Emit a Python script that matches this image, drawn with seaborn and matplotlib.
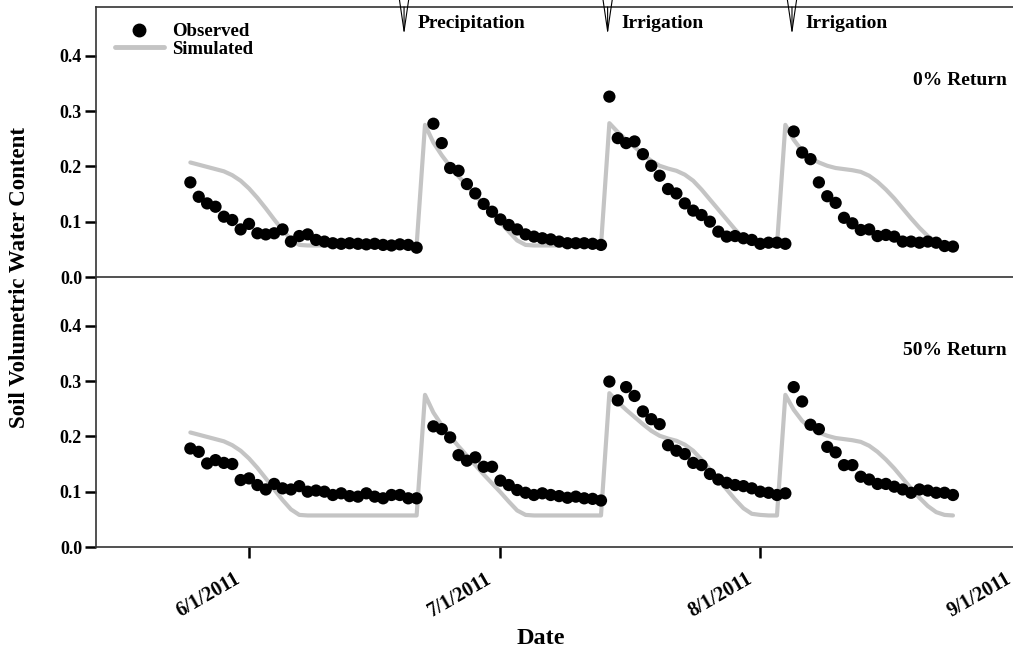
import numpy as np
import pandas as pd
import matplotlib
matplotlib.use("Agg")
import matplotlib.pyplot as plt
import matplotlib.dates as mdates
from matplotlib.lines import Line2D
from matplotlib.transforms import ScaledTranslation
import seaborn as sns

# ---------------- data ----------------
obs_dates = list(pd.date_range("2011-05-25", "2011-06-21")) + list(pd.date_range("2011-06-23", "2011-08-24"))
sim_dates = list(pd.date_range("2011-05-25", "2011-08-24"))

obs_0 = [0.171, 0.145, 0.133, 0.127, 0.109, 0.103, 0.086, 0.096, 0.079, 0.077,
         0.079, 0.086, 0.064, 0.074, 0.077, 0.067, 0.064, 0.061, 0.060, 0.061,
         0.060, 0.059, 0.060, 0.058, 0.057, 0.059, 0.058, 0.053,
         0.277, 0.242, 0.197, 0.192, 0.168, 0.151, 0.132, 0.118, 0.104, 0.094,
         0.086, 0.077, 0.073, 0.070, 0.068, 0.064, 0.061, 0.061, 0.061, 0.060, 0.058,
         0.326, 0.251, 0.242, 0.245, 0.222, 0.201, 0.183, 0.159, 0.151, 0.133,
         0.120, 0.112, 0.100, 0.082, 0.073, 0.074, 0.070, 0.067, 0.060, 0.062, 0.062, 0.060,
         0.263, 0.225, 0.213, 0.171, 0.146, 0.134, 0.107, 0.097, 0.085, 0.086,
         0.074, 0.076, 0.073, 0.064, 0.064, 0.062, 0.064, 0.062, 0.056, 0.055]

obs_50 = [0.178, 0.172, 0.151, 0.157, 0.152, 0.150, 0.121, 0.124, 0.112, 0.104,
          0.114, 0.106, 0.104, 0.110, 0.100, 0.102, 0.100, 0.094, 0.097, 0.092,
          0.091, 0.097, 0.091, 0.088, 0.094, 0.094, 0.088, 0.088,
          0.218, 0.213, 0.198, 0.166, 0.156, 0.162, 0.145, 0.145, 0.120, 0.112,
          0.103, 0.098, 0.094, 0.097, 0.094, 0.092, 0.089, 0.091, 0.088, 0.087, 0.084,
          0.299, 0.265, 0.289, 0.273, 0.245, 0.231, 0.222, 0.184, 0.174, 0.168,
          0.152, 0.148, 0.132, 0.122, 0.116, 0.112, 0.110, 0.106, 0.100, 0.098, 0.094, 0.097,
          0.289, 0.263, 0.221, 0.213, 0.181, 0.171, 0.148, 0.148, 0.127, 0.122,
          0.114, 0.114, 0.109, 0.104, 0.098, 0.104, 0.102, 0.098, 0.098, 0.094]

sim = [0.207, 0.203, 0.199, 0.195, 0.191, 0.184, 0.174, 0.160, 0.143, 0.124,
       0.104, 0.085, 0.068, 0.058,
       0.057, 0.057, 0.057, 0.057, 0.057, 0.057, 0.057, 0.057, 0.057, 0.057,
       0.057, 0.057, 0.057, 0.057,
       0.275, 0.243, 0.220, 0.200, 0.182, 0.165, 0.148, 0.131, 0.115, 0.099,
       0.082, 0.066, 0.058,
       0.057, 0.057, 0.057, 0.057, 0.057, 0.057, 0.057, 0.057, 0.057,
       0.278, 0.262, 0.248, 0.235, 0.222, 0.210, 0.201, 0.196, 0.192, 0.185,
       0.174, 0.158, 0.140, 0.122, 0.104, 0.086, 0.070, 0.060, 0.058, 0.057, 0.057,
       0.275, 0.248, 0.228, 0.215, 0.207, 0.201, 0.197, 0.195, 0.193, 0.190,
       0.183, 0.172, 0.158, 0.142, 0.124, 0.106, 0.089, 0.074, 0.063, 0.058, 0.057]

panel_labels = ["0% Return", "50% Return"]
events = [("Precipitation", "2011-06-19 12:00"), ("Irrigation", "2011-07-13 19:00"),
          ("Irrigation", "2011-08-04 19:00")]
xtick_dates = ["2011-06-01", "2011-07-01", "2011-08-01", "2011-09-01"]
xtick_labels = ["6/1/2011", "7/1/2011", "8/1/2011", "9/1/2011"]
yticks = [0.0, 0.1, 0.2, 0.3, 0.4]

obs_df = pd.DataFrame({"Date": obs_dates * 2,
                       "VWC": obs_0 + obs_50,
                       "Panel": [panel_labels[0]] * len(obs_0) + [panel_labels[1]] * len(obs_50)})
sim_df = pd.DataFrame({"Date": sim_dates, "VWC": sim})

# ---------------- style ----------------
sns.set_theme(style="ticks")
plt.rcParams["font.family"] = ["Liberation Serif", "DejaVu Serif"]
plt.rcParams["font.weight"] = "bold"
plt.rcParams["text.color"] = "black"
plt.rcParams["xtick.color"] = "black"
plt.rcParams["ytick.color"] = "black"
plt.rcParams["xtick.labelcolor"] = "black"
plt.rcParams["ytick.labelcolor"] = "black"

W, H = 1013, 656
fig = plt.figure(figsize=(W / 100, H / 100), dpi=100)

def box(x0, y0, x1, y1):
    return [x0 / W, 1 - y1 / H, (x1 - x0) / W, (y1 - y0) / H]

ax_top = fig.add_axes(box(96, 7, 1020, 277))
ax_bot = fig.add_axes(box(96, 277, 1020, 547))

xmin = pd.Timestamp("2011-06-01") - pd.Timedelta(days=18.26)
xmax = pd.Timestamp("2011-09-01")
ymax = 0.488

gray = "#c4c4c4"
for ax, lab in zip([ax_top, ax_bot], panel_labels):
    sub = obs_df[obs_df["Panel"] == lab]
    sns.lineplot(data=sim_df, x="Date", y="VWC", ax=ax, color=gray, lw=3.0, zorder=2)
    sns.scatterplot(data=sub, x="Date", y="VWC", ax=ax, color="black", s=78,
                    edgecolor="none", zorder=3, legend=False)
    ax.set_xlim(xmin, xmax)
    ax.set_ylim(0, ymax)
    ax.set_yticks(yticks)
    ax.set_yticklabels([f"{v:.1f}" for v in yticks], fontsize=13, fontweight="bold")
    ax.set_xlabel("")
    ax.set_ylabel("")
    ax.tick_params(axis="y", direction="out", length=8, width=1.8, pad=2, color="black")
    ax.spines["right"].set_visible(False)
    for s in ["left", "bottom", "top"]:
        ax.spines[s].set_color("#333333")
        ax.spines[s].set_linewidth(1.2)
    ax.text(mdates.date2num(pd.Timestamp("2011-08-30 11:00")), 0.356, lab,
            ha="right", va="center", fontsize=14, fontweight="bold")
    ax.patch.set_alpha(0)

ax_bot.spines["top"].set_visible(False)
ax_top.tick_params(axis="x", bottom=False, labelbottom=False)
ax_bot.set_xticks([mdates.date2num(pd.Timestamp(d)) for d in xtick_dates])
ax_bot.set_xticklabels(xtick_labels, rotation=30, ha="right", va="center",
                       rotation_mode="anchor", fontsize=14.5, fontweight="bold")
ax_bot.tick_params(axis="x", direction="out", length=8, width=1.8, pad=14, color="black")
shift = ScaledTranslation(-10 / 100, 0, fig.dpi_scale_trans)
for lbl in ax_bot.get_xticklabels():
    lbl.set_transform(lbl.get_transform() + shift)

# event arrows
for name, d in events:
    xd = mdates.date2num(pd.Timestamp(d))
    ax_top.annotate("", xy=(xd, 0.4376), xytext=(xd, ymax),
                    arrowprops=dict(arrowstyle="->,head_length=1.9,head_width=0.28",
                                    lw=0.8, color="black", shrinkA=0, shrinkB=0))
    ax_top.text(xd + 1.6, 0.459, name, ha="left", va="center", fontsize=14,
                fontweight="bold")

# legend
handles = [Line2D([], [], marker="o", ls="none", color="black", markersize=9),
           Line2D([], [], color=gray, lw=3.5)]
ax_top.legend(handles, ["Observed", "Simulated"], loc="upper left",
              bbox_to_anchor=(0.0206, 0.94), frameon=False, borderaxespad=0,
              borderpad=0, handlelength=2.6, handletextpad=0.45, labelspacing=0.02,
              prop={"family": "Liberation Serif", "weight": "bold", "size": 13.5})

fig.text(20 / W, 1 - 277 / H, "Soil Volumetric Water Content", rotation=90,
         ha="center", va="center", fontsize=16.5, fontweight="bold")
fig.text(541 / W, 1 - 639 / H, "Date", ha="center", va="center",
         fontsize=17.5, fontweight="bold")

fig.savefig("out.png", dpi=100)
